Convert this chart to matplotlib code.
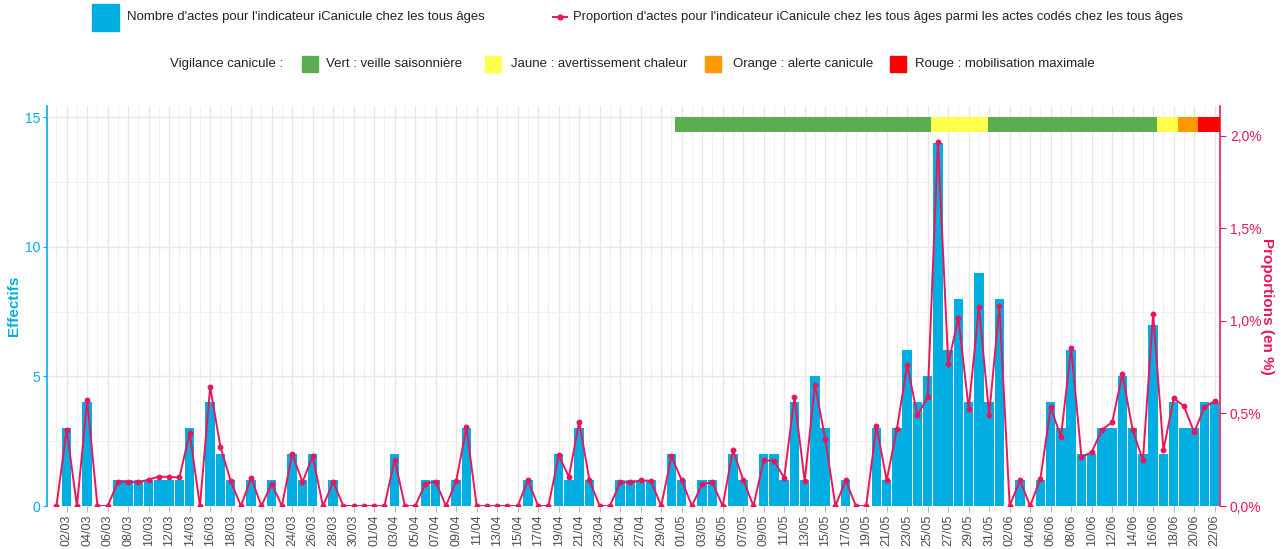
import matplotlib
matplotlib.use("Agg")
import matplotlib.pyplot as plt
import matplotlib.patches as mpatches
from matplotlib.lines import Line2D
import pandas as pd

plt.rcParams['font.family'] = ['Liberation Sans', 'DejaVu Sans']

# jours du 01/03 au 22/06
jours = pd.date_range("2023-03-01", "2023-06-22", freq="D")
labels_jours = [d.strftime("%d/%m") for d in jours]

effectifs = [0, 3, 0, 4, 0, 0, 1, 1, 1, 1, 1, 1, 1, 3, 0, 4, 2, 1, 0, 1,
             0, 1, 0, 2, 1, 2, 0, 1, 0, 0, 0, 0, 0, 2, 0, 0, 1, 1, 0, 1,
             3, 0, 0, 0, 0, 0, 1, 0, 0, 2, 1, 3, 1, 0, 0, 1, 1, 1, 1, 0,
             2, 1, 0, 1, 1, 0, 2, 1, 0, 2, 2, 1, 4, 1, 5, 3, 0, 1, 0, 0,
             3, 1, 3, 6, 4, 5, 14, 6, 8, 4, 9, 4, 8, 0, 1, 0, 1, 4, 3, 6,
             2, 2, 3, 3, 5, 3, 2, 7, 2, 4, 3, 3, 4, 4]

proportions = [0, 0.413, 0, 0.571, 0, 0, 0.131, 0.131, 0.127, 0.143,
               0.159, 0.157, 0.154, 0.395, 0, 0.643, 0.319, 0.136, 0, 0.152,
               0, 0.121, 0, 0.283, 0.129, 0.269, 0, 0.129, 0, 0,
               0, 0, 0, 0.251, 0, 0, 0.121, 0.132, 0, 0.135,
               0.425, 0, 0, 0, 0, 0, 0.139, 0, 0, 0.273,
               0.157, 0.456, 0.139, 0, 0, 0.129, 0.127, 0.138, 0.136, 0,
               0.269, 0.139, 0, 0.120, 0.127, 0, 0.301, 0.143, 0, 0.247,
               0.244, 0.152, 0.587, 0.134, 0.656, 0.364, 0, 0.139, 0, 0,
               0.431, 0.138, 0.418, 0.760, 0.490, 0.587, 1.968, 0.768, 1.016, 0.525,
               1.075, 0.494, 1.079, 0, 0.139, 0, 0.148, 0.533, 0.373, 0.854,
               0.265, 0.290, 0.413, 0.452, 0.714, 0.409, 0.247, 1.039, 0.301, 0.582,
               0.539, 0.398, 0.533, 0.566]

# bandeau vigilance (en position de jour)
vig_debut = [61.3, 86.35, 91.85, 108.35, 110.4, 112.4]
vig_fin = [86.35, 91.85, 108.35, 110.4, 112.4, 114.5]
vig_couleur = ['#5BAE50', '#FFFF4D', '#5BAE50', '#FFFF4D', '#FF9900', '#FF0000']

niveaux = ["Vert : veille saisonnière", "Jaune : avertissement chaleur",
           "Orange : alerte canicule", "Rouge : mobilisation maximale"]
niveaux_couleur = ['#5BAE50', '#FFFF4D', '#FF9900', '#FF0000']

bleu = '#00AEE2'
rose = '#E8175D'
gris = '#4D4D4D'

W, H = 1284, 549
fig = plt.figure(figsize=(W / 100, H / 100), dpi=100)
fig.subplots_adjust(left=46.7 / W, right=1219.5 / W, top=1 - 106 / H, bottom=1 - 506 / H)
ax = fig.add_subplot(111)

x = list(range(1, len(jours) + 1))
ax.bar(x, effectifs, width=0.92, color=bleu, zorder=2)

ax.set_xlim(0.05, 114.47)
ax.set_ylim(0, 15.43)
ax.set_yticks([0, 5, 10, 15])
ax.set_yticks([2.5, 7.5, 12.5], minor=True)
ax.set_xticks(x[1::2])
ax.set_xticklabels(labels_jours[1::2], rotation=90, fontsize=9, color=gris)
ax.set_xticks(x[0::2], minor=True)
ax.grid(True, which='major', color='#E8E8E8', lw=1.0, zorder=0)
ax.grid(True, which='minor', color='#F0F0F0', lw=0.8, zorder=0)
ax.set_axisbelow(True)
ax.tick_params(axis='x', which='major', length=4, color='#BBBBBB', pad=2)
ax.tick_params(axis='x', which='minor', length=0)
ax.tick_params(axis='y', which='major', length=3, pad=1.5, color=bleu, labelcolor=bleu, labelsize=10)
ax.tick_params(axis='y', which='minor', length=0)
for s in ['top', 'bottom', 'right']:
    ax.spines[s].set_visible(False)
ax.spines['left'].set_color(bleu)
ax.spines['left'].set_linewidth(1.2)
ax.set_ylabel("Effectifs", color=bleu, fontsize=11, fontweight='bold', labelpad=3)

ax2 = ax.twinx()
ax2.plot(x, proportions, color=rose, lw=1.4, marker='o', markersize=3.2, zorder=3)
ax2.set_ylim(0, 2.16)
ax2.set_yticks([0, 0.5, 1.0, 1.5, 2.0])
ax2.set_yticklabels(["0,0%", "0,5%", "1,0%", "1,5%", "2,0%"])
ax2.tick_params(axis='y', length=4, color=rose, labelcolor=rose, labelsize=10)
for s in ['top', 'bottom', 'left']:
    ax2.spines[s].set_visible(False)
ax2.spines['right'].set_color(rose)
ax2.spines['right'].set_linewidth(1.2)
ax2.set_ylabel("Proportions (en %)", color=rose, fontsize=11, fontweight='bold',
               rotation=270, labelpad=9)

# bandeau vigilance sur l'axe des effectifs
ax3 = ax.twinx()
ax3.set_ylim(ax.get_ylim())
ax3.axis('off')
ax3.broken_barh([(d, f - d) for d, f in zip(vig_debut, vig_fin)], (14.41, 0.6),
                facecolors=vig_couleur, zorder=4)


def px(xp, yp):
    return xp / W, 1 - yp / H


# légende ligne 1
fig.patches.append(mpatches.Rectangle(px(92, 31), 27 / W, 27 / H, color=bleu,
                                      transform=fig.transFigure, figure=fig))
fig.text(*px(127, 17), "Nombre d'actes pour l'indicateur iCanicule chez les tous âges",
         fontsize=9.45, va='center', ha='left', color='#222222')
fig.lines.append(Line2D([553 / W, 567 / W], [1 - 17 / H] * 2, color=rose, lw=1.4,
                        transform=fig.transFigure, figure=fig))
fig.lines.append(Line2D([560 / W], [1 - 17 / H], color=rose, marker='o', markersize=3.5,
                        transform=fig.transFigure, figure=fig))
fig.text(*px(573, 17), "Proportion d'actes pour l'indicateur iCanicule chez les tous âges "
         "parmi les actes codés chez les tous âges",
         fontsize=9.4, va='center', ha='left', color='#222222')

# légende ligne 2
fig.text(*px(170, 64), "Vigilance canicule :", fontsize=9.5, va='center', ha='left', color='#222222')
carre_x = [302, 485, 705, 890]
texte_x = [326, 511, 733, 915]
for nom, coul, cx, tx in zip(niveaux, niveaux_couleur, carre_x, texte_x):
    fig.patches.append(mpatches.Rectangle(px(cx, 72), 16 / W, 16 / H, color=coul,
                                          transform=fig.transFigure, figure=fig))
    fig.text(*px(tx, 64), nom, fontsize=9.5, va='center', ha='left', color='#222222')

fig.savefig("out.png", dpi=100)
